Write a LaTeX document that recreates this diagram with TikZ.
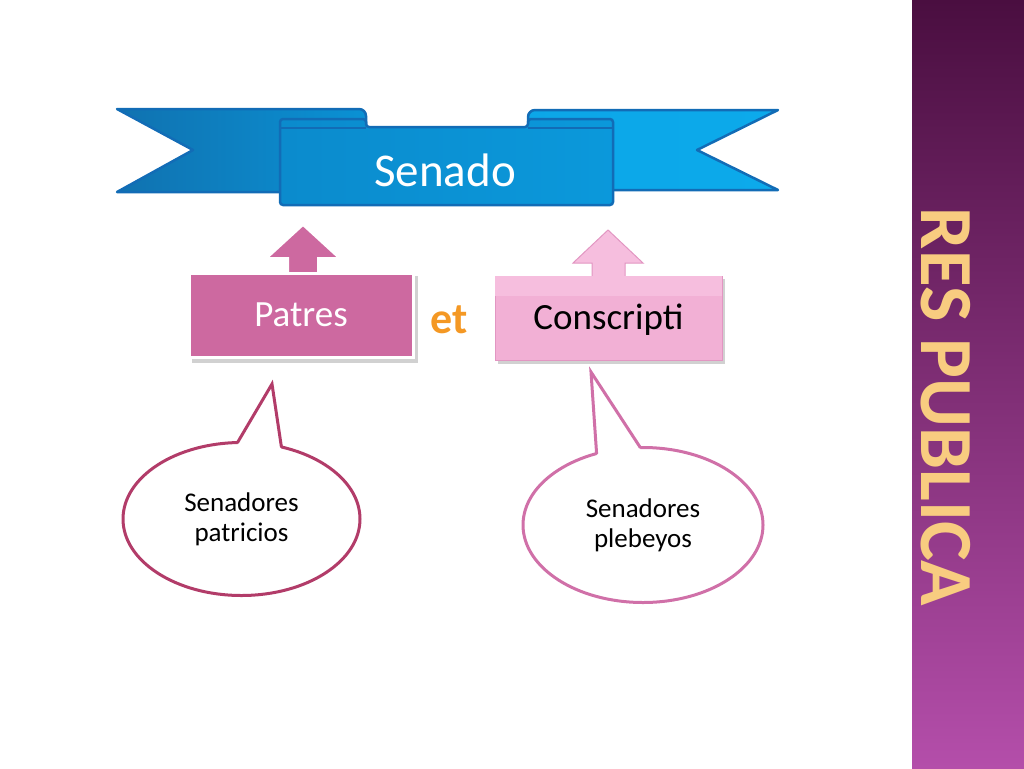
\documentclass[tikz,border=0pt]{standalone}
\usepackage{fontspec}
\setmainfont{Carlito}
\usetikzlibrary{shapes.geometric}

\definecolor{bandedge}{RGB}{18,108,182}
\definecolor{banddark}{RGB}{16,114,176}
\definecolor{bandmid}{RGB}{10,145,212}
\definecolor{bandlight}{RGB}{12,170,235}
\definecolor{patrespink}{RGB}{205,105,160}
\definecolor{conspink}{RGB}{242,176,213}
\definecolor{conslight}{RGB}{246,190,222}
\definecolor{consedge}{RGB}{226,150,194}
\definecolor{bubbledark}{RGB}{178,60,105}
\definecolor{bubblelight}{RGB}{208,112,168}
\definecolor{bartop}{RGB}{74,14,64}
\definecolor{barmid}{RGB}{132,42,122}
\definecolor{barbottom}{RGB}{180,78,170}
\definecolor{bargold}{RGB}{248,204,128}
\definecolor{etorange}{RGB}{244,152,36}

\begin{document}
\begin{tikzpicture}[x=1pt, y=-1pt,
    band/.style={draw=bandedge, line width=2.5pt, line join=round},
    card/.style={minimum width=224pt, minimum height=84pt, inner sep=0pt,
        text height=23pt, text depth=0pt, font=\fontsize{37}{37}\selectfont},
    bubble/.style={ellipse, fill=white, line width=3pt, inner sep=0pt,
        outer sep=0pt, align=center, font=\fontsize{27}{30}\selectfont},
    dropshadow/.style={fill=black, opacity=0.18},
]
\useasboundingbox (0,0) rectangle (1024,768);

\shade[top color=bartop, middle color=barmid, bottom color=barbottom] (912,0) rectangle (1024,768); % side bar
\node[rotate=-90, text=bargold, inner sep=0pt, font=\bfseries\fontsize{75}{75}\selectfont] (respublica) at (946,407) {RES PUBLICA};

\shadedraw[band, left color=banddark, right color=bandmid] (117,109) [rounded corners=7pt] -- (366,109) -- (366,150) [sharp corners] -- (366,192) -- (117,192) -- (193,150) -- cycle; % left tail
\shadedraw[band, left color=bandlight!85!bandmid, right color=bandlight] (778,110) [rounded corners=7pt] -- (528,110) -- (528,150) [sharp corners] -- (528,190) -- (778,190) -- (697,150) -- cycle; % right tail
\shadedraw[band, left color=bandmid!80!banddark, right color=bandmid!70!bandlight, rounded corners=3pt] (280,205) -- (280,119) -- (366,119) -- (366,127) -- (528,127) -- (528,119) -- (613,119) -- (613,205) -- cycle; % panel
\draw[bandedge, line width=2pt] (281,128) -- (366,128);
\draw[bandedge, line width=2pt] (528,128) -- (612,128);
\node[text=white, text height=30pt, text depth=0pt, inner sep=0pt, font=\fontsize{47}{47}\selectfont] (senado) at (445,171) {Senado};

\filldraw[fill=patrespink, draw=white, line width=2pt] (288,282) -- (288,258) -- (267,258) -- (303,225) -- (339,258) -- (318,258) -- (318,282) -- cycle; % patres arrow
\fill[dropshadow] (192,276) rectangle (418,363);
\node[card, fill=patrespink, draw=white, line width=3pt, text=white] (patres) at (301,315) {Patres};

\filldraw[fill=conslight, draw=consedge, line width=1pt] (592,282) -- (592,263) -- (573,263) -- (608,230) -- (643,263) -- (625,263) -- (625,282) -- cycle; % conscripti arrow
\fill[dropshadow] (498,279) rectangle (725,364);
\node[card, minimum width=227pt, fill=conspink, draw=consedge, line width=1pt] (conscripti) at (608.5,318) {};
\fill[conslight] ([xshift=0.5pt,yshift=-0.5pt]conscripti.north west) rectangle ([xshift=-0.5pt,yshift=-20pt]conscripti.north east);
\node[card, minimum width=227pt] at (conscripti.center) {Conscripti};

\node[anchor=base, text=etorange, inner sep=0pt, font=\bfseries\fontsize{44}{44}\selectfont] (et) at (449,333) {et};

\node[bubble, draw=bubbledark, minimum width=237pt, minimum height=153pt] (patricios) at (241.5,519) {Senadores\\patricios};
\coordinate (patip) at (272,384);
\fill[white] (patricios.93) -- (patip) -- (patricios.61) -- ([yshift=-7pt]patricios.61) -- ([yshift=-7pt]patricios.93) -- cycle;
\draw[bubbledark, line width=3pt, line cap=round] (patricios.93) -- (patip) -- (patricios.61);

\node[bubble, draw=bubblelight, minimum width=240pt, minimum height=155pt] (plebeyos) at (643,525) {Senadores\\plebeyos};
\coordinate (pltip) at (591,372);
\fill[white] (plebeyos.123) -- (pltip) -- (plebeyos.92) -- ([yshift=-7pt]plebeyos.92) -- ([yshift=-7pt]plebeyos.123) -- cycle;
\draw[bubblelight, line width=3pt, line cap=round] (plebeyos.123) -- (pltip) -- (plebeyos.92);
\end{tikzpicture}
\end{document}
